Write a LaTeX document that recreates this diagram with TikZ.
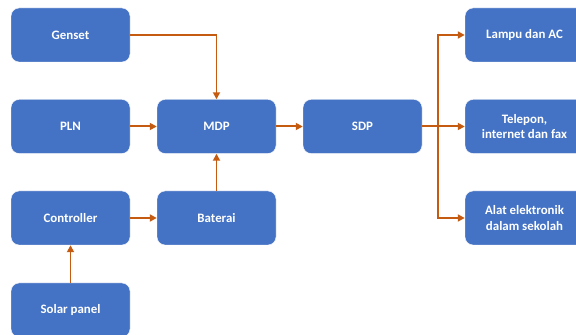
\documentclass[tikz,border=0pt]{standalone}
\usepackage{fontspec}
\setmainfont{Carlito}
\usetikzlibrary{arrows.meta}
\definecolor{boxblue}{HTML}{4472C4}
\definecolor{arrorange}{HTML}{C55A11}

\begin{document}
\begin{tikzpicture}[
  blok/.style={rectangle,rounded corners=0.24cm,fill=boxblue,draw=white,thin,
    minimum width=3.57cm,minimum height=1.62cm,text=white,align=center,
    font=\fontsize{11}{13.5}\selectfont\bfseries},
  panah/.style={draw=arrorange,line width=1.7pt,-{Triangle[length=2.1mm,width=2.1mm]}}
]
\useasboundingbox (0,0) rectangle (17.28,10.05);

% sumber
\node[blok] (genset) at (2.115,9.0) {Genset};
\node[blok] (pln) at (2.115,6.255) {PLN};
\node[blok] (controller) at (2.115,3.51) {Controller};
\node[blok] (solar) at (2.115,0.75) {Solar panel};

% panel
\node[blok] (mdp) at (6.495,6.255) {MDP};
\node[blok] (baterai) at (6.495,3.51) {Baterai};
\node[blok] (sdp) at (10.875,6.255) {SDP};

% beban
\node[blok] (lampu) at (15.735,9.0) {Lampu dan AC};
\node[blok] (telepon) at (15.735,6.255) {Telepon,\\internet dan fax};
\node[blok] (alat) at (15.735,3.51) {Alat elektronik\\dalam sekolah};

\coordinate (cabang) at (13.14,6.255); %titik cabang

\draw[panah] (genset.east) -| (mdp.north);
\draw[panah] (pln) -- (mdp);
\draw[panah] (baterai) -- (mdp);
\draw[panah] (controller) -- (baterai);
\draw[panah] (solar) -- (controller);
\draw[panah] (mdp) -- (sdp);

\draw[panah] (sdp) -- (telepon);
\draw[panah] (cabang) |- (lampu.west);
\draw[panah] (cabang) |- (alat.west);

\end{tikzpicture}
\end{document}
